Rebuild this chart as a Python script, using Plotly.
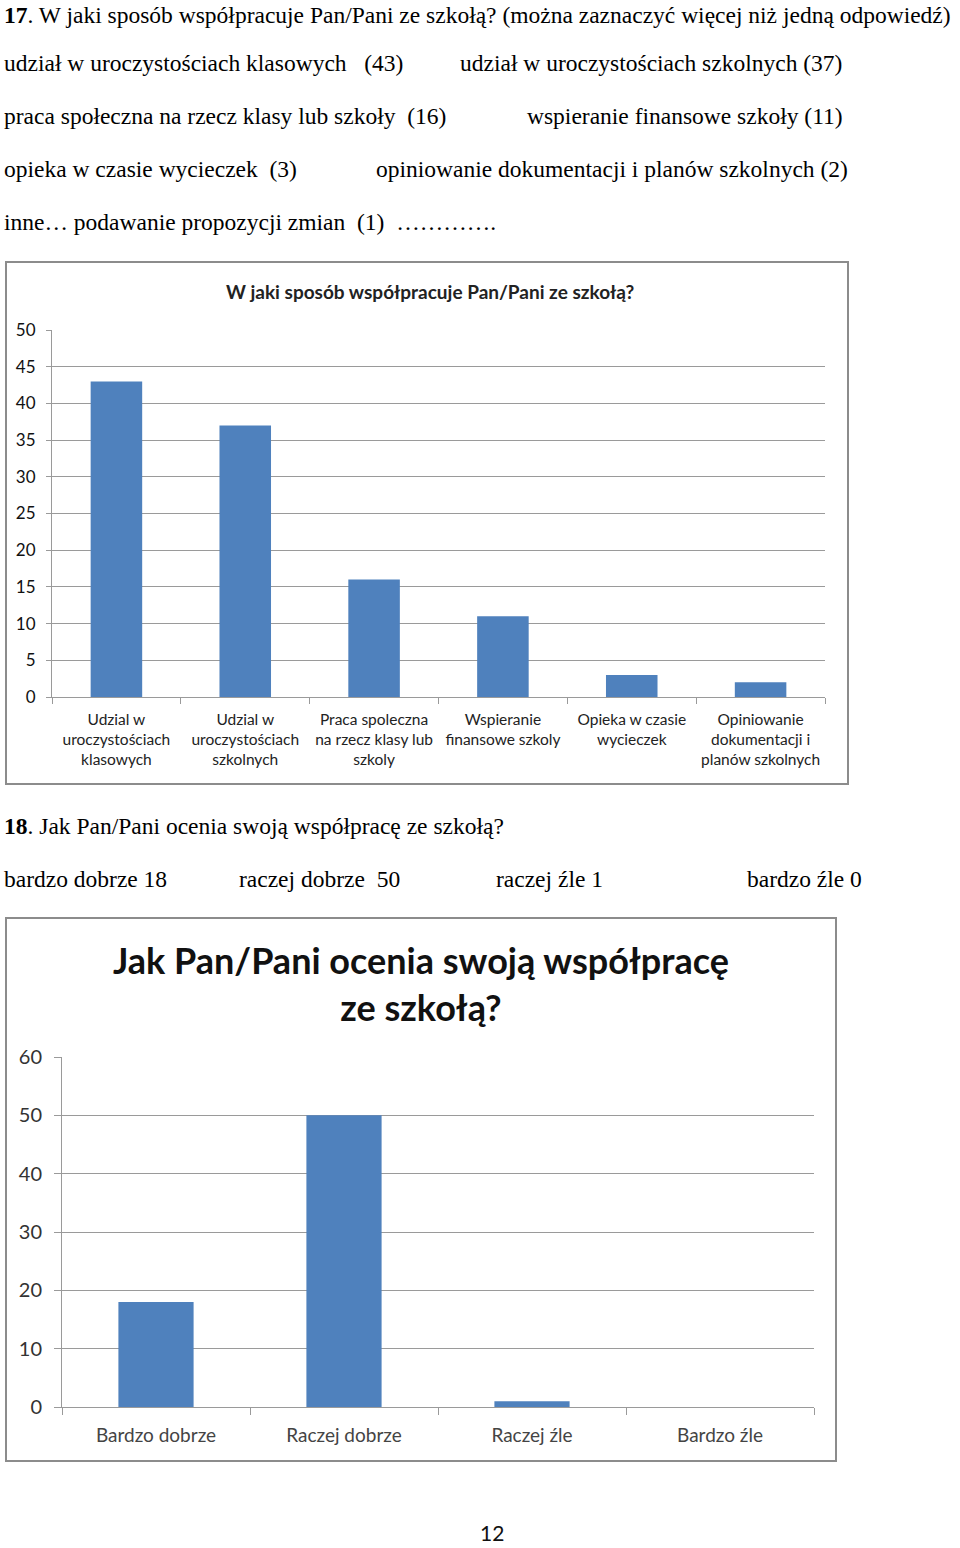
import plotly.graph_objects as go

W, H = 960, 1548

# ---- data ----
q17_categories = [
    "Udzial w<br>uroczystościach<br>klasowych",
    "Udzial w<br>uroczystościach<br>szkolnych",
    "Praca spoleczna<br>na rzecz klasy lub<br>szkoly",
    "Wspieranie<br>finansowe szkoly",
    "Opieka w czasie<br>wycieczek",
    "Opiniowanie<br>dokumentacji i<br>planów szkolnych",
]
q17_values = [43, 37, 16, 11, 3, 2]
q17_ticks = [0, 5, 10, 15, 20, 25, 30, 35, 40, 45, 50]

q18_categories = ["Bardzo dobrze", "Raczej dobrze", "Raczej źle", "Bardzo źle"]
q18_values = [18, 50, 1, 0]
q18_ticks = [0, 10, 20, 30, 40, 50, 60]

BAR = "#4F81BD"
GRID = "#9A9A9A"
SERIF = "Liberation Serif"
SANS = "Lato"


def px(x):
    return x / W


def py(y):
    return 1 - y / H


fig = go.Figure()
fig.add_trace(go.Bar(x=q17_categories, y=q17_values, marker_color=BAR,
                     marker_line_width=0, width=0.4, xaxis="x", yaxis="y",
                     showlegend=False))
fig.add_trace(go.Bar(x=q18_categories, y=q18_values, marker_color=BAR,
                     marker_line_width=0, width=0.4, xaxis="x2", yaxis="y2",
                     showlegend=False))

axis_common = dict(showline=True, linecolor=GRID, linewidth=1, ticks="outside",
                   tickcolor=GRID, fixedrange=True, automargin=False)

fig.update_layout(
    template="none",
    width=W, height=H, autosize=False,
    margin=dict(l=0, r=0, t=0, b=0, pad=0, autoexpand=False),
    paper_bgcolor="white", plot_bgcolor="white",
    xaxis=dict(domain=[px(52), px(825)], anchor="y", tickson="boundaries",
               ticklen=6, ticklabelstandoff=8, tickangle=0,
               tickfont=dict(family=SANS, size=15.5, color="#222"), showgrid=False,
               **axis_common),
    yaxis=dict(domain=[py(697), py(330)], anchor="x", range=[0, 50],
               tickvals=q17_ticks, showgrid=True, gridcolor=GRID, gridwidth=1,
               ticklen=5, ticklabelstandoff=7,
               tickfont=dict(family=SANS, size=17, color="#111"), zeroline=False,
               **axis_common),
    xaxis2=dict(domain=[px(62), px(814)], anchor="y2", tickson="boundaries",
                ticklen=7, ticklabelstandoff=11, tickangle=0,
                tickfont=dict(family=SANS, size=19, color="#444"), showgrid=False,
                **axis_common),
    yaxis2=dict(domain=[py(1407), py(1057)], anchor="x2", range=[0, 60],
                tickvals=q18_ticks, showgrid=True, gridcolor=GRID, gridwidth=1,
                ticklen=7, ticklabelstandoff=8,
                tickfont=dict(family=SANS, size=20, color="#333"), zeroline=False,
                **axis_common),
    bargap=0.6,
)

# chart borders
fig.add_shape(type="rect", xref="paper", yref="paper",
              x0=px(6), x1=px(848), y0=py(784), y1=py(262),
              line=dict(color="#8C8C8C", width=2), fillcolor="rgba(0,0,0,0)")
fig.add_shape(type="rect", xref="paper", yref="paper",
              x0=px(6), x1=px(836), y0=py(1461), y1=py(918),
              line=dict(color="#8C8C8C", width=2), fillcolor="rgba(0,0,0,0)")


def text(x, y, s, size=23.5, family=SERIF, anchor="left", color="black"):
    fig.add_annotation(x=px(x), y=py(y), xref="paper", yref="paper", text=s,
                       showarrow=False, xanchor=anchor, yanchor="middle",
                       font=dict(family=family, size=size, color=color))


text(2, 15, "<b>17</b>. W jaki sposób współpracuje Pan/Pani ze szkołą? (można zaznaczyć więcej niż jedną odpowiedź)")
text(2, 63, "udział w uroczystościach klasowych   (43)")
text(458, 63, "udział w uroczystościach szkolnych (37)")
text(2, 116, "praca społeczna na rzecz klasy lub szkoły  (16)")
text(525, 116, "wspieranie finansowe szkoły (11)")
text(2, 169, "opieka w czasie wycieczek  (3)")
text(374, 169, "opiniowanie dokumentacji i planów szkolnych (2)")
text(2, 222, "inne… podawanie propozycji zmian  (1)  ………….")

text(430, 292, "<b>W jaki sposób współpracuje Pan/Pani ze szkołą?</b>", size=19,
     family=SANS, anchor="center", color="#222")

text(2, 826, "<b>18</b>. Jak Pan/Pani ocenia swoją współpracę ze szkołą?")
text(2, 879, "bardzo dobrze 18")
text(237, 879, "raczej dobrze  50")
text(494, 879, "raczej źle 1")
text(745, 879, "bardzo źle 0")

text(421, 983, "<b>Jak Pan/Pani ocenia swoją współpracę<br>ze szkołą?</b>", size=36,
     family=SANS, anchor="center", color="#111")

text(492, 1532, "12", size=21, family=SANS, anchor="center", color="#111")

fig.write_html("out.html")
